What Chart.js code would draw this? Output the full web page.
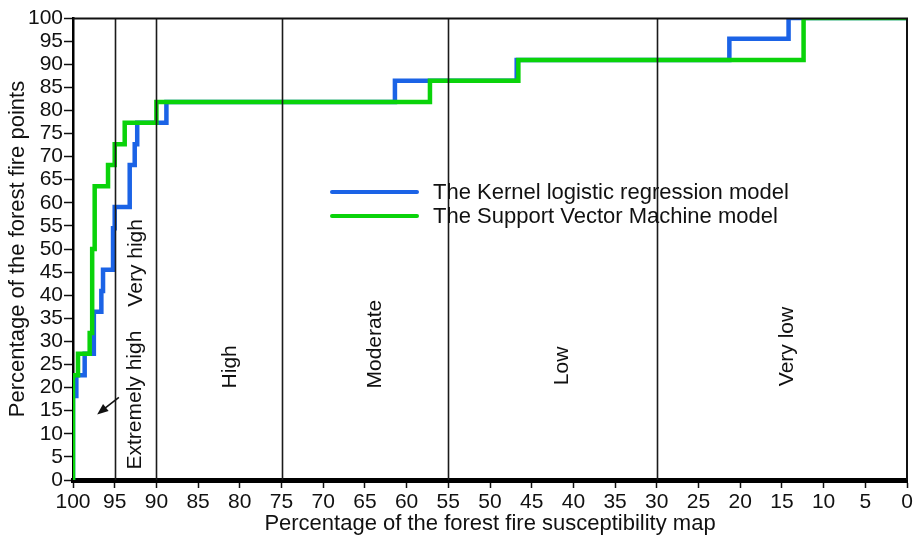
<!DOCTYPE html>
<html>
<head>
<meta charset="utf-8">
<script src="https://cdn.jsdelivr.net/npm/chart.js@4.4.1/dist/chart.umd.min.js"></script>
<style>
html,body{margin:0;padding:0;background:#fff;}
#wrap{width:916px;height:539px;position:relative;}
</style>
</head>
<body>
<div id="wrap"><canvas id="c"></canvas></div>
<script>
// ---- data ----
const seriesNames = ['The Kernel logistic regression model', 'The Support Vector Machine model'];
// step points: at each x the cumulative percentage jumps to y
const klrX = [100, 100, 99.6, 98.6, 97.5, 96.6, 96.4, 95.2, 95.0, 93.2, 92.6, 92.3, 88.8, 61.4, 46.8, 21.3, 14.2, 0];
const klrY = [0, 18.2, 22.7, 27.3, 36.4, 40.9, 45.5, 54.5, 59.1, 68.2, 72.7, 77.3, 81.8, 86.4, 90.9, 95.5, 100, 100];
const svmX = [100, 100, 99.4, 98.0, 97.7, 97.4, 95.8, 95.0, 93.8, 90.0, 57.2, 46.6, 12.4, 0];
const svmY = [0, 22.7, 27.3, 31.8, 50.0, 63.6, 68.2, 72.7, 77.3, 81.8, 86.4, 90.9, 100, 100];
const xTitle = 'Percentage of the forest fire susceptibility map';
const yTitle = 'Percentage of the forest fire points';
const tickStep = 5;
// susceptibility zones
const zoneBounds = [95, 90, 75, 55, 30];
const zoneNames = ['Extremely high', 'Very high', 'High', 'Moderate', 'Low', 'Very low'];
const zoneLabelX = [92.6, 92.4, 81.1, 63.8, 41.3, 14.4];
const zoneLabelY = [17.3, 47.0, 24.5, 29.4, 24.7, 28.9];
// small arrow annotation (from, to) in data values
const arrowFromXY = [94.5, 17.9];
const arrowToXY = [97.1, 14.2];

const BLUE = '#1b63e6';
const GREEN = '#0ad30a';
const FONT = "'Liberation Sans', Arial, Helvetica, sans-serif";

const toPts = (xs, ys) => xs.map((v, i) => ({x: v, y: ys[i]}));

const overlay = {
  id: 'overlay',
  afterDatasetsDraw(chart) {
    const {ctx, chartArea: a, scales: {x, y}} = chart;
    ctx.save();
    // zone dividers
    ctx.strokeStyle = '#1a1a1a';
    ctx.lineWidth = 1.6;
    zoneBounds.forEach(v => {
      const px = Math.round(x.getPixelForValue(v)) + 0.5;
      ctx.beginPath(); ctx.moveTo(px, a.top); ctx.lineTo(px, a.bottom); ctx.stroke();
    });
    // top & right frame
    ctx.strokeStyle = '#111';
    ctx.lineWidth = 2;
    ctx.beginPath();
    ctx.moveTo(a.left, a.top + 0.5); ctx.lineTo(a.right, a.top + 0.5); ctx.lineTo(a.right, a.bottom);
    ctx.stroke();
    // zone labels (rotated)
    ctx.fillStyle = '#111';
    ctx.font = '21px ' + FONT;
    ctx.textAlign = 'center';
    ctx.textBaseline = 'middle';
    zoneNames.forEach((t, i) => {
      ctx.save();
      ctx.translate(x.getPixelForValue(zoneLabelX[i]), y.getPixelForValue(zoneLabelY[i]));
      ctx.rotate(-Math.PI / 2);
      ctx.fillText(t, 0, 0);
      ctx.restore();
    });
    // arrow
    const x0 = x.getPixelForValue(arrowFromXY[0]), y0 = y.getPixelForValue(arrowFromXY[1]);
    const x1 = x.getPixelForValue(arrowToXY[0]), y1 = y.getPixelForValue(arrowToXY[1]);
    const ang = Math.atan2(y1 - y0, x1 - x0);
    const hl = 11, hw = 4.5;
    ctx.strokeStyle = '#111'; ctx.lineWidth = 1.6;
    ctx.beginPath(); ctx.moveTo(x0, y0);
    ctx.lineTo(x1 - Math.cos(ang) * hl * 0.8, y1 - Math.sin(ang) * hl * 0.8); ctx.stroke();
    ctx.beginPath();
    ctx.moveTo(x1, y1);
    ctx.lineTo(x1 - Math.cos(ang) * hl + Math.sin(ang) * hw, y1 - Math.sin(ang) * hl - Math.cos(ang) * hw);
    ctx.lineTo(x1 - Math.cos(ang) * hl - Math.sin(ang) * hw, y1 - Math.sin(ang) * hl + Math.cos(ang) * hw);
    ctx.closePath(); ctx.fillStyle = '#111'; ctx.fill();
    // legend
    const lx0 = a.left + 259, lx1 = a.left + 344, tx = a.left + 360;
    const rows = [a.top + 174, a.top + 198];
    const cols = [BLUE, GREEN];
    ctx.font = '22px ' + FONT;
    ctx.textAlign = 'left';
    ctx.textBaseline = 'middle';
    seriesNames.forEach((n, i) => {
      ctx.strokeStyle = cols[i]; ctx.lineWidth = 4; ctx.lineCap = 'round';
      ctx.beginPath(); ctx.moveTo(lx0, rows[i]); ctx.lineTo(lx1, rows[i]); ctx.stroke();
      ctx.fillStyle = '#111';
      ctx.fillText(n, tx, rows[i] + 1);
    });
    ctx.restore();
  }
};

new Chart(document.getElementById('c'), {
  type: 'line',
  data: {
    datasets: [
      {label: seriesNames[0], data: toPts(klrX, klrY), borderColor: BLUE, borderWidth: 4.5,
       stepped: 'before', pointRadius: 0, fill: false, order: 2, borderJoinStyle: 'miter', borderCapStyle: 'butt'},
      {label: seriesNames[1], data: toPts(svmX, svmY), borderColor: GREEN, borderWidth: 4.5,
       stepped: 'before', pointRadius: 0, fill: false, order: 1, borderJoinStyle: 'miter', borderCapStyle: 'butt'}
    ]
  },
  options: {
    responsive: true,
    maintainAspectRatio: false,
    animation: false,
    layout: {padding: {top: 18, right: 9, left: 0, bottom: 0}},
    plugins: {legend: {display: false}, tooltip: {enabled: false}},
    scales: {
      x: {
        type: 'linear', reverse: true, min: 0, max: 100,
        afterFit(s) { s.height = 59; },
        ticks: {stepSize: tickStep, autoSkip: false, maxRotation: 0, padding: 2, color: '#111',
                font: {family: FONT, size: 21}},
        grid: {drawOnChartArea: false, drawTicks: true, tickLength: 8, tickColor: '#111', tickWidth: 1.5},
        border: {display: true, color: '#000', width: 5},
        title: {display: true, text: xTitle, color: '#111', font: {family: FONT, size: 22},
                padding: {top: 0, bottom: 2}}
      },
      y: {
        type: 'linear', min: 0, max: 100,
        afterFit(s) { s.width = 73; },
        ticks: {stepSize: tickStep, autoSkip: false, padding: 1, color: '#111',
                font: {family: FONT, size: 21}},
        grid: {drawOnChartArea: false, drawTicks: true, tickLength: 9, tickColor: '#111', tickWidth: 1.5},
        border: {display: true, color: '#000', width: 2.5},
        title: {display: true, text: yTitle, color: '#111', font: {family: FONT, size: 22},
                padding: {top: 5, bottom: 0}}
      }
    }
  },
  plugins: [overlay]
});
</script>
</body>
</html>
